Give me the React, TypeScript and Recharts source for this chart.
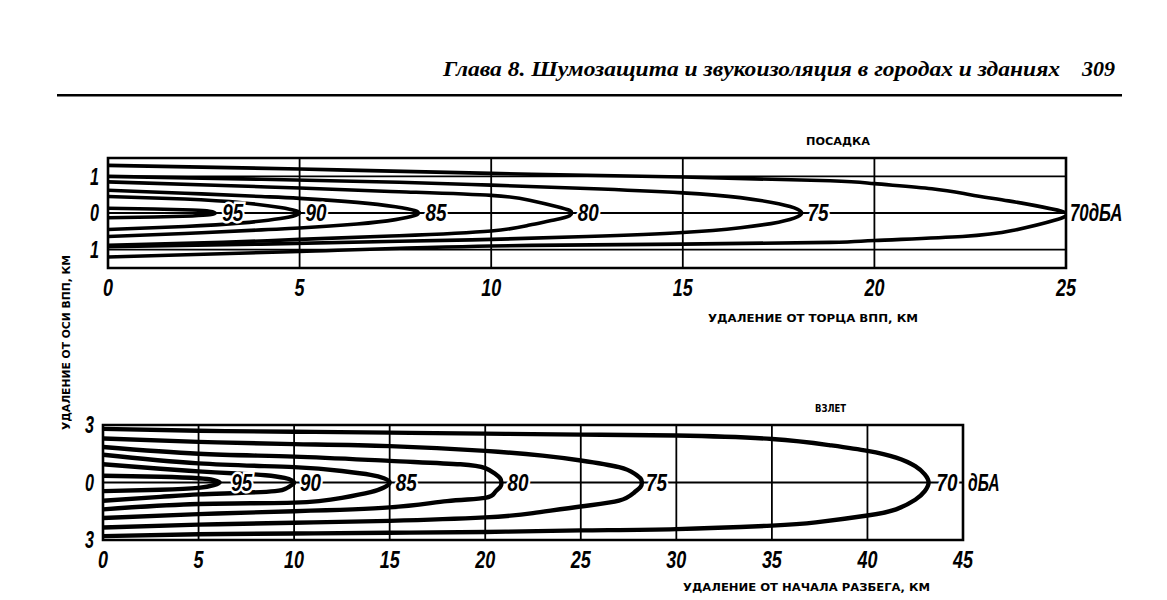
import React from 'react';
import { LineChart, Line, XAxis, YAxis, CartesianGrid, ReferenceArea, ReferenceDot } from 'recharts';

// ---------- Page text ----------
const pageHeader = 'Глава 8. Шумозащита и звукоизоляция в городах и зданиях';
const pageNumber = '309';
const yAxisTitle = 'УДАЛЕНИЕ ОТ ОСИ ВПП, КМ';

// ---------- Landing (ПОСАДКА) ----------
const landingTitle = 'ПОСАДКА';
const landingXTitle = 'УДАЛЕНИЕ ОТ ТОРЦА ВПП, КМ';
const landingXTicks = [0, 5, 10, 15, 20, 25];
const landingYTicks = [-1, 0, 1];
const landingLabels = ['95', '90', '85', '80', '75', '70дБА'];
const landingLabelX = [2.8, 5.0, 8.1, 12.1, 18.1, 25];
const landing95 = [[0, 0.13], [1.2, 0.11], [2.2, 0.08], [2.65, 0.05], [2.8, 0], [2.65, -0.05], [2.2, -0.08], [1.2, -0.11], [0, -0.13]];
const landing90 = [[0, 0.45], [2, 0.38], [3.5, 0.28], [4.5, 0.15], [4.9, 0.06], [5, 0], [4.9, -0.06], [4.5, -0.15], [3.5, -0.27], [2, -0.37], [0, -0.45]];
const landing85 = [[0, 0.62], [2, 0.54], [4, 0.45], [5, 0.4], [6.5, 0.29], [7.5, 0.17], [8, 0.07], [8.1, 0], [8, -0.07], [7.5, -0.18], [6.5, -0.3], [5, -0.41], [4, -0.46], [2, -0.56], [0, -0.64]];
const landing80 = [[0, 0.85], [3, 0.75], [5, 0.68], [7.6, 0.58], [10, 0.48], [11, 0.35], [11.7, 0.18], [12.05, 0.07], [12.1, 0], [12.05, -0.07], [11.7, -0.18], [11, -0.33], [10, -0.49], [7.6, -0.62], [5, -0.72], [3, -0.8], [0, -0.88]];
const landing75 = [[0, 1.0], [4, 0.92], [7.6, 0.84], [10, 0.76], [12.5, 0.67], [15, 0.55], [16.5, 0.42], [17.5, 0.25], [18, 0.1], [18.1, 0], [18, -0.1], [17.5, -0.25], [16.5, -0.4], [15, -0.53], [12.5, -0.64], [10, -0.72], [7.6, -0.77], [4, -0.85], [0, -0.92]];
const landing70 = [[0, 1.3], [5, 1.2], [10, 1.08], [15, 0.98], [18.85, 0.88], [20, 0.8], [21.5, 0.66], [22.5, 0.5], [23.5, 0.33], [24.4, 0.16], [25, 0], [24.7, -0.2], [23.6, -0.48], [22.3, -0.64], [20, -0.75], [18.85, -0.8], [15, -0.85], [10, -0.9], [5, -1.05], [0, -1.2]];
const landingContours = [landing95, landing90, landing85, landing80, landing75, landing70];

// ---------- Takeoff (ВЗЛЕТ) ----------
const takeoffTitle = 'ВЗЛЕТ';
const takeoffXTitle = 'УДАЛЕНИЕ ОТ НАЧАЛА РАЗБЕГА, КМ';
const takeoffXTicks = [0, 5, 10, 15, 20, 25, 30, 35, 40, 45];
const takeoffYTicks = [-3, 0, 3];
const takeoffLabels = ['95', '90', '85', '80', '75', '70'];
const takeoffLabelX = [6.5, 10, 15, 20.85, 28.2, 43.2];
const takeoffUnit = 'дБА';
const takeoff95 = [[0, 0.35], [3, 0.3], [5, 0.22], [5.8, 0.12], [6.1, 0], [5.8, -0.14], [5, -0.28], [3, -0.38], [0, -0.45]];
const takeoff90 = [[0, 0.95], [3, 0.72], [5, 0.58], [7, 0.47], [8.5, 0.38], [9.5, 0.24], [9.9, 0.1], [10, 0], [9.9, -0.12], [9.6, -0.3], [9, -0.45], [7, -0.55], [5, -0.62], [3, -0.75], [0, -0.95]];
const takeoff85 = [[0, 1.45], [5, 1.0], [10, 0.8], [12.5, 0.6], [14, 0.4], [14.7, 0.22], [15, 0], [14.7, -0.26], [14, -0.5], [12.5, -0.8], [10, -1.05], [5, -1.12], [0, -1.4]];
const takeoff80 = [[0, 1.85], [5, 1.5], [10, 1.35], [15, 1.13], [18.7, 0.95], [20, 0.75], [20.5, 0.47], [20.78, 0.22], [20.85, 0], [20.78, -0.24], [20.5, -0.52], [20, -0.8], [18, -0.97], [15, -1.3], [10, -1.5], [5, -1.65], [0, -1.85]];
const takeoff75 = [[0, 2.3], [5, 2.12], [10, 2.0], [15, 1.9], [20, 1.65], [23, 1.4], [25, 1.15], [27, 0.8], [27.8, 0.47], [28.12, 0.22], [28.2, 0], [28.12, -0.24], [27.8, -0.52], [27, -0.95], [25, -1.25], [22.5, -1.6], [20, -1.82], [15, -2.0], [10, -2.1], [5, -2.2], [0, -2.35]];
const takeoff70 = [[0, 2.8], [5, 2.7], [10, 2.65], [15, 2.6], [20, 2.55], [25, 2.5], [30, 2.45], [35, 2.27], [38, 1.95], [40, 1.65], [41.5, 1.3], [42.5, 0.85], [43.0, 0.42], [43.2, 0], [43.0, -0.45], [42.5, -0.9], [41.5, -1.4], [40, -1.72], [37.3, -2.08], [35, -2.25], [30, -2.43], [25, -2.5], [20, -2.58], [15, -2.62], [10, -2.66], [5, -2.7], [0, -2.8]];
const takeoffContours = [takeoff95, takeoff90, takeoff85, takeoff80, takeoff75, takeoff70];

const toPoints = (pairs: number[][]) => pairs.map(([x, y]) => ({ x, y }));

const NARROW = '"Liberation Sans", "DejaVu Sans", sans-serif';

const XTick = (p: any) => {
  const s = String(p.payload.value);
  return (
    <text x={p.x} y={p.y} dy="0.75em" textAnchor="middle" textLength={s.length * 10} lengthAdjust="spacingAndGlyphs"
      fontSize={23} fontStyle="italic" fontWeight="bold" fontFamily={NARROW} fill="#000">
      {s}
    </text>
  );
};

const YTick = (p: any) => {
  const s = String(Math.abs(p.payload.value));
  return (
    <text x={p.x} y={p.y} dy="0.36em" textAnchor="end" textLength={s.length * 9} lengthAdjust="spacingAndGlyphs"
      fontSize={23} fontStyle="italic" fontWeight="bold" fontFamily={NARROW} fill="#000">
      {s}
    </text>
  );
};

const labelShape = (text: string, dx: number) => (p: any) => (
  <text
    x={p.cx + dx}
    y={p.cy + 8}
    textLength={text.length * 10.5}
    lengthAdjust="spacingAndGlyphs"
    fontSize={24}
    fontStyle="italic"
    fontWeight="bold"
    fontFamily={NARROW}
    fill="#000"
    stroke="#fff"
    strokeWidth={5}
    paintOrder="stroke"
  >
    {text}
  </text>
);

type ContourChartProps = {
  top: number;
  height: number;
  margin: { top: number; right: number; left: number; bottom: number };
  xTicks: number[];
  yTicks: number[];
  yMax: number;
  contours: number[][][];
  labels: string[];
  labelX: number[];
  labelDx: number[];
  strokeWidth: number;
  unit?: string;
};

function ContourChart(props: ContourChartProps) {
  const { top, height, margin, xTicks, yTicks, yMax, contours, labels, labelX, labelDx, strokeWidth, unit } = props;
  const xMax = xTicks[xTicks.length - 1];
  return (
    <div style={{ position: 'absolute', left: 0, top }}>
      <LineChart width={1167} height={height} margin={margin}>
        <CartesianGrid stroke="#000" strokeWidth={1.8} />
        <XAxis
          type="number"
          dataKey="x"
          domain={[0, xMax]}
          ticks={xTicks}
          allowDataOverflow
          tickLine={false}
          axisLine={false}
          tickSize={0}
          tickMargin={11}
          height={60}
          tick={XTick}
        />
        <YAxis
          type="number"
          dataKey="y"
          domain={[-yMax, yMax]}
          ticks={yTicks}
          allowDataOverflow
          tickLine={false}
          axisLine={false}
          tickSize={0}
          tickMargin={9}
          width={40}
          tick={YTick}
        />
        <ReferenceArea x1={0} x2={xMax} y1={-yMax} y2={yMax} fill="none" stroke="#000" strokeWidth={2.6} ifOverflow="visible" />
        {contours.map((c, i) => (
          <Line
            key={i}
            data={toPoints(c)}
            dataKey="y"
            type="natural"
            stroke="#000"
            strokeWidth={strokeWidth}
            dot={false}
            activeDot={false}
            isAnimationActive={false}
          />
        ))}
        {labels.map((t, i) => (
          <ReferenceDot key={t} x={labelX[i]} y={0} r={0} ifOverflow="visible" shape={labelShape(t, labelDx[i])} />
        ))}
        {unit ? <ReferenceDot x={xMax} y={0} r={0} ifOverflow="visible" shape={labelShape(unit, 5)} /> : null}
      </LineChart>
    </div>
  );
}

const smallBold = {
  fontFamily: '"DejaVu Sans", sans-serif',
  fontWeight: 'bold' as const,
  fontSize: 10,
  fill: '#000',
};

export default function App() {
  return (
    <div style={{ position: 'absolute', left: 0, top: 0, width: 1167, height: 600, background: '#fff', overflow: 'hidden' }}>
      <svg width={1167} height={600} style={{ position: 'absolute', left: 0, top: 0 }}>
        <text
          x={443}
          y={76}
          textLength={617}
          lengthAdjust="spacingAndGlyphs"
          fontFamily='"Liberation Serif", serif'
          fontStyle="italic"
          fontWeight="bold"
          fontSize={22}
          fill="#000"
        >
          {pageHeader}
        </text>
        <text x={1082} y={76} textLength={33} lengthAdjust="spacingAndGlyphs" fontFamily='"Liberation Serif", serif' fontStyle="italic" fontWeight="bold" fontSize={22} fill="#000">
          {pageNumber}
        </text>
        <rect x={57} y={94} width={1065} height={2.5} fill="#000" />
        <text x={806} y={145} textLength={64} lengthAdjust="spacingAndGlyphs" {...smallBold}>{landingTitle}</text>
        <text x={708} y={322} textLength={210} lengthAdjust="spacingAndGlyphs" {...smallBold}>{landingXTitle}</text>
        <text x={815} y={412} textLength={31} lengthAdjust="spacingAndGlyphs" {...smallBold}>{takeoffTitle}</text>
        <text x={683} y={591} textLength={247} lengthAdjust="spacingAndGlyphs" {...smallBold}>{takeoffXTitle}</text>
        <text
          x={0}
          y={0}
          transform="translate(70 430) rotate(-90)"
          textLength={175}
          lengthAdjust="spacingAndGlyphs"
          {...smallBold}
        >
          {yAxisTitle}
        </text>
      </svg>
      <ContourChart
        top={0}
        height={330}
        margin={{ top: 158, right: 101, left: 68, bottom: 2 }}
        xTicks={landingXTicks}
        yTicks={landingYTicks}
        yMax={1.5}
        contours={landingContours}
        labels={landingLabels}
        labelX={landingLabelX}
        labelDx={[7, 6, 7, 6, 6, 4]}
        strokeWidth={3.6}
      />
      <ContourChart
        top={330}
        height={272}
        margin={{ top: 95, right: 204, left: 63, bottom: 2 }}
        xTicks={takeoffXTicks}
        yTicks={takeoffYTicks}
        yMax={3}
        contours={takeoffContours}
        labels={takeoffLabels}
        labelX={takeoffLabelX}
        labelDx={[4, 6, 6, 6, 4, 8]}
        strokeWidth={4.4}
        unit={takeoffUnit}
      />
    </div>
  );
}
